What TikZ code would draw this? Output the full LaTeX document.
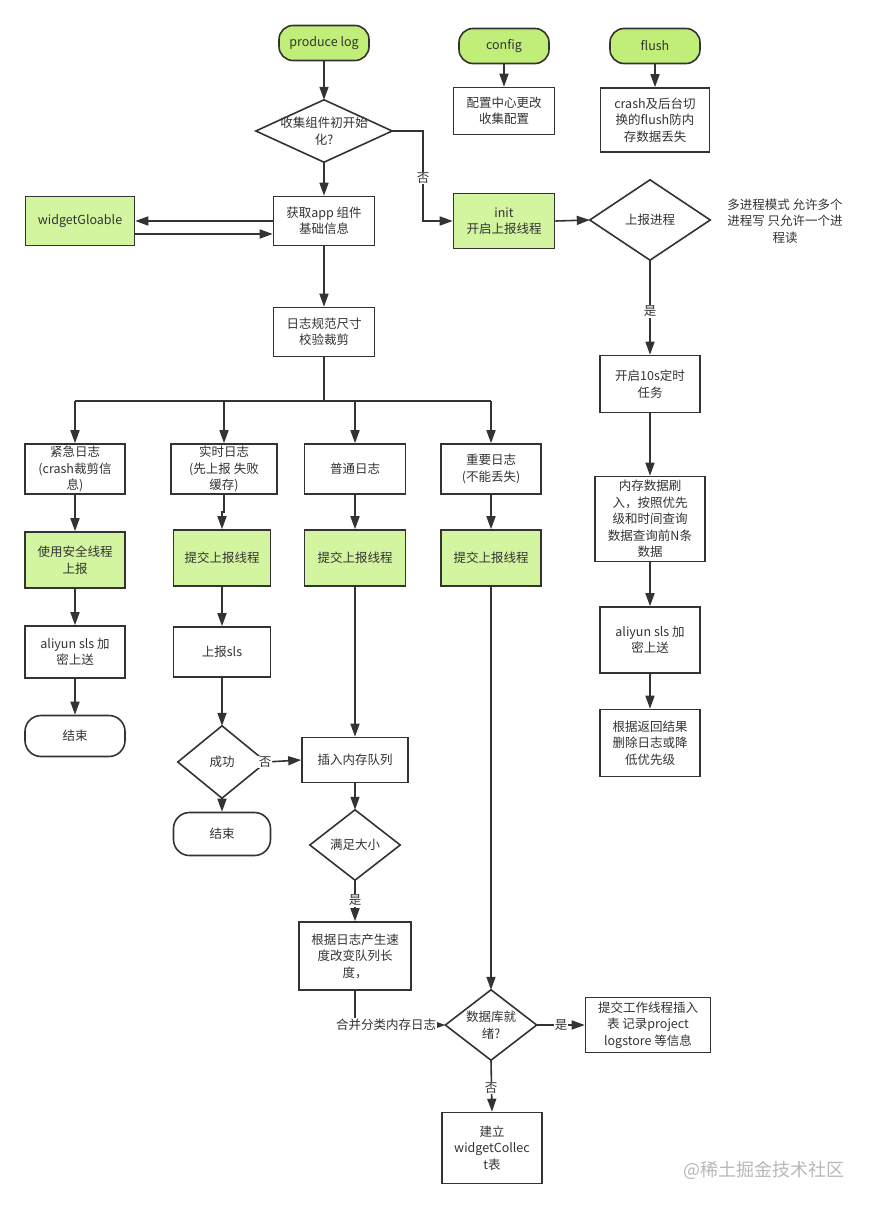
\documentclass[tikz,border=0pt]{standalone}
\usepackage{fontspec}
\setmainfont{Noto Sans CJK SC}
\usetikzlibrary{arrows.meta,calc}
\definecolor{lc}{HTML}{333333}
\definecolor{pillg}{HTML}{C0EE78}
\definecolor{boxg}{HTML}{D3F5A0}
\definecolor{wm}{HTML}{B8B8B8}
\tikzset{
  txt/.style={font=\fontsize{12.5}{16.5}\selectfont, text=lc, align=center},
  box/.style={txt, draw=lc, line width=1.6pt, inner sep=0pt, shape=rectangle},
  gbox/.style={box, fill=boxg},
  pill/.style={box, fill=pillg, rounded corners=14pt},
  wpill/.style={box, rounded corners=16pt},
  dia/.style={txt, shape=rectangle, inner sep=0pt},
  dline/.style={draw=lc, line width=1.6pt, line join=miter},
  conn/.style={draw=lc, line width=1.6pt},
  arr/.style={conn, -{Triangle[length=13pt,width=9pt]}},
  lbl/.style={txt, fill=white, inner sep=1pt},
}
\begin{document}
\begin{tikzpicture}[x=1pt,y=1pt]
\fill[white] (0,0) rectangle (873,-1209);
\useasboundingbox (0,0) rectangle (873,-1209);

% top part
\node[pill, minimum width=90pt, minimum height=35pt] (produce) at (324,-43) {produce log};
\node[dia, minimum width=136pt, minimum height=62pt] (d1) at (324,-131) {收集组件初开始\\化?};
\draw[dline] (d1.north)--(d1.east)--(d1.south)--(d1.west)--cycle;
\node[box, minimum width=101pt, minimum height=49pt] (app) at (324,-221) {获取app 组件\\基础信息};
\node[gbox, minimum width=109pt, minimum height=49pt] (widget) at (80,-221) {widgetGloable};
\node[box, minimum width=101pt, minimum height=49pt] (norm) at (324,-332) {日志规范尺寸\\校验裁剪};

\node[gbox, minimum width=101pt, minimum height=55pt] (init) at (504,-221) {init\\开启上报线程};
\node[pill, minimum width=90pt, minimum height=35pt] (config) at (504,-46) {config};
\node[box, minimum width=101pt, minimum height=47pt] (cfgbox) at (504,-111) {配置中心更改\\收集配置};
\node[pill, minimum width=90pt, minimum height=35pt] (flush) at (655,-46) {flush};
\node[box, minimum width=109pt, minimum height=64pt] (flushbox) at (655,-120) {crash及后台切\\换的flush防内\\存数据丢失};

\node[dia, minimum width=120pt, minimum height=80pt] (d2) at (650,-220) {上报进程};
\draw[dline] (d2.north)--(d2.east)--(d2.south)--(d2.west)--cycle;
\node[txt] (note) at (785,-221) {多进程模式 允许多个\\进程写 只允许一个进\\程读};
\node[box, minimum width=100pt, minimum height=57pt] (timer) at (650,-384) {开启10s定时\\任务};
\node[box, minimum width=110pt, minimum height=85pt] (mem) at (650,-519) {内存数据刷\\入，按照优先\\级和时间查询\\数据查询前N条\\数据};
\node[box, minimum width=100pt, minimum height=66pt] (ali2) at (650,-640) {aliyun sls 加\\密上送};
\node[box, minimum width=100pt, minimum height=67pt] (ret) at (650,-743) {根据返回结果\\删除日志或降\\低优先级};

% column 1
\node[box, minimum width=100pt, minimum height=50pt] (c1) at (75,-469) {紧急日志\\(crash裁剪信\\息)};
\node[gbox, minimum width=100pt, minimum height=56pt] (g1) at (75,-560) {使用安全线程\\上报};
\node[box, minimum width=100pt, minimum height=52pt] (a1) at (75,-652) {aliyun sls 加\\密上送};
\node[wpill, minimum width=100pt, minimum height=41pt] (e1) at (75,-736) {结束};

% column 2
\node[box, minimum width=106pt, minimum height=50pt] (c2) at (224,-469) {实时日志\\(先上报 失败\\缓存)};
\node[gbox, minimum width=97pt, minimum height=56pt] (g2) at (222,-558) {提交上报线程};
\node[box, minimum width=97pt, minimum height=50pt] (s2) at (222,-652) {上报sls};
\node[dia, minimum width=88pt, minimum height=72pt] (d3) at (222,-762) {成功};
\draw[dline] (d3.north)--(d3.east)--(d3.south)--(d3.west)--cycle;
\node[wpill, minimum width=97pt, minimum height=43pt] (e2) at (222,-834) {结束};

% column 3
\node[box, minimum width=101pt, minimum height=50pt] (c3) at (355,-469) {普通日志};
\node[gbox, minimum width=101pt, minimum height=56pt] (g3) at (355,-558) {提交上报线程};
\node[box, minimum width=106pt, minimum height=45pt] (q3) at (355,-760) {插入内存队列};
\node[dia, minimum width=90pt, minimum height=70pt] (d4) at (355,-845) {满足大小};
\draw[dline] (d4.north)--(d4.east)--(d4.south)--(d4.west)--cycle;
\node[box, minimum width=112pt, minimum height=68pt] (r3) at (355,-956) {根据日志产生速\\度改变队列长\\度，};

% column 4
\node[box, minimum width=100pt, minimum height=50pt] (c4) at (491,-469) {重要日志\\(不能丢失)};
\node[gbox, minimum width=100pt, minimum height=56pt] (g4) at (491,-558) {提交上报线程};
\node[dia, minimum width=91pt, minimum height=70pt] (d5) at (491,-1025) {数据库就\\绪?};
\draw[dline] (d5.north)--(d5.east)--(d5.south)--(d5.west)--cycle;
\node[box, minimum width=125pt, minimum height=55pt] (t5) at (648,-1025) {提交工作线程插入\\表 记录project\\logstore 等信息};
\node[box, minimum width=100pt, minimum height=71pt] (w5) at (492,-1148) {建立\\widgetCollec\\t表};

\node[font=\fontsize{18}{21}\selectfont, text=wm] (wmk) at (764,-1170) {@稀土掘金技术社区};

% connectors
\draw[arr] (produce.south) -- (d1.north);
\draw[arr] (d1.south) -- (app.north);
\coordinate (k1) at (423,-131);
\draw[arr] (d1.east) -- (k1) |- (init.west);
\node[lbl] (no1) at (423,-178) {否};
\draw[arr] (app.west) -- (widget.east);
\draw[arr] ([yshift=-13pt]widget.east) -- ([yshift=-13pt]app.west);
\draw[arr] (app.south) -- (norm.north);

\draw[arr] (config.south) -- (cfgbox.north);
\draw[arr] (flush.south) -- (flushbox.north);
\draw[arr] (init.east) -- (d2.west);
\draw[arr] (d2.south) -- (timer.north);
\node[lbl] (yes1) at (650,-311) {是};
\draw[arr] (timer.south) -- (mem.north);
\draw[arr] (mem.south) -- (ali2.north);
\draw[arr] (ali2.south) -- (ret.north);

\coordinate (bL) at (75,-401);
\coordinate (bR) at (491,-401);
\draw[conn] (norm.south) -- (norm.south |- bL);
\draw[conn] (bL) -- (bR);
\draw[arr] (bL) -- (c1.north);
\draw[arr] (c2.north |- bL) -- (c2.north);
\draw[arr] (c3.north |- bL) -- (c3.north);
\draw[arr] (bR) -- (c4.north);

\draw[arr] (c1.south) -- (g1.north);
\draw[arr] (g1.south) -- (a1.north);
\draw[arr] (a1.south) -- (e1.north);

\coordinate (j2) at (224,-512);
\draw[arr] (c2.south) -- (j2) -- (j2 -| g2.north) -- (g2.north);
\draw[arr] (g2.south) -- (s2.north);
\draw[arr] (s2.south) -- (d3.north);
\draw[arr] (d3.south) -- (e2.north);
\draw[arr] (d3.east) -- (q3.west);
\node[lbl] (no2) at (265,-762) {否};

\draw[arr] (c3.south) -- (g3.north);
\draw[arr] (g3.south) -- (q3.north);
\draw[arr] (q3.south) -- (d4.north);
\draw[arr] (d4.south) -- (r3.north);
\node[lbl] (yes2) at (355,-900) {是};
\draw[arr] (r3.south) |- (d5.west);
\node[lbl] (merge) at (386,-1025) {合并分类内存日志};

\draw[arr] (c4.south) -- (g4.north);
\draw[arr] (g4.south) -- (d5.north);
\draw[arr] (d5.east) -- (t5.west);
\node[lbl] (yes3) at (561,-1025) {是};
\draw[arr] (d5.south) -- (w5.north);
\node[lbl] (no3) at (491,-1088) {否};
\end{tikzpicture}
\end{document}
